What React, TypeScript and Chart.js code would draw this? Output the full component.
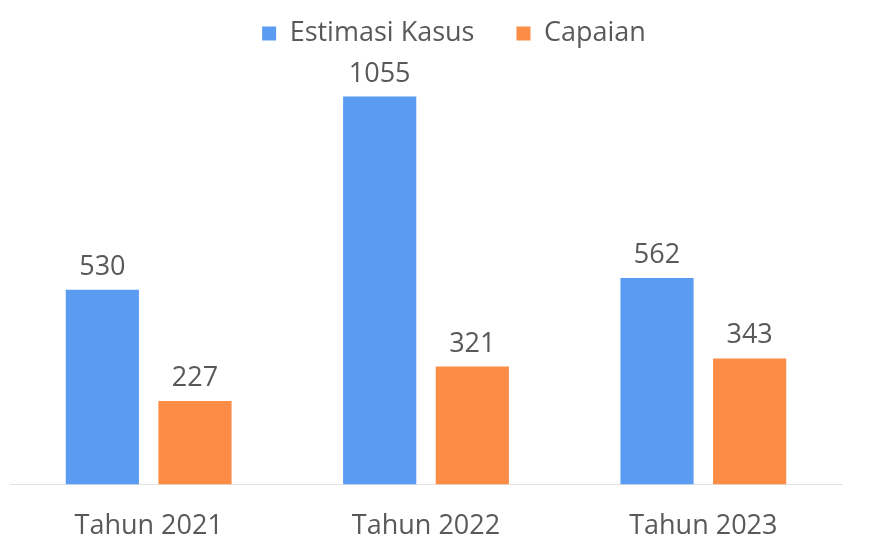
import React, { useEffect, useRef } from "react";
import { Chart, registerables } from "chart.js";

Chart.register(...registerables);

const categories = ["Tahun 2021", "Tahun 2022", "Tahun 2023"];
const estimasiKasus = [530, 1055, 562];
const capaian = [227, 321, 343];
const seriesNames = ["Estimasi Kasus", "Capaian"];

const FONT = "'Open Sans', 'Noto Sans', sans-serif";
const TEXT = "#595959";
const FS = 27;

const valueLabels = {
  id: "valueLabels",
  afterDatasetsDraw(chart: any) {
    const ctx = chart.ctx;
    ctx.save();
    ctx.font = `${FS}px ${FONT}`;
    ctx.fillStyle = TEXT;
    ctx.textAlign = "center";
    ctx.textBaseline = "alphabetic";
    chart.data.datasets.forEach((ds: any, i: number) => {
      const meta = chart.getDatasetMeta(i);
      meta.data.forEach((bar: any, j: number) => {
        ctx.fillText(String(ds.data[j]), bar.x, bar.y - 15);
      });
    });
    ctx.restore();
  },
};

const legendPlace = {
  id: "legendPlace",
  beforeInit(chart: any) {
    const origFit = chart.legend.fit;
    chart.legend.fit = function () {
      origFit.bind(chart.legend)();
      this.height = 70;
    };
  },
  afterLayout(chart: any) {
    const lg = chart.legend;
    lg.top -= 32;
    lg.bottom -= 32;
    lg.left += 28;
    lg.right += 28;
  },
};

export default function App() {
  const ref = useRef<HTMLCanvasElement>(null);
  useEffect(() => {
    document.body.style.margin = "0";
    const chart = new Chart(ref.current!, {
      type: "bar",
      data: {
        labels: categories,
        datasets: [
          {
            label: seriesNames[0],
            data: estimasiKasus,
            backgroundColor: "#5b9cf2",
            barPercentage: 0.79,
            categoryPercentage: 0.668,
          },
          {
            label: seriesNames[1],
            data: capaian,
            backgroundColor: "#fb8d47",
            barPercentage: 0.79,
            categoryPercentage: 0.668,
          },
        ],
      },
      options: {
        animation: false,
        responsive: false,
        layout: { padding: { top: 10, left: 10, right: 30, bottom: -32 } },
        plugins: {
          legend: {
            position: "top",
            labels: {
              font: { family: FONT, size: FS },
              color: TEXT,
              boxWidth: 14,
              boxHeight: 14,
              padding: 42,
            },
          },
          tooltip: { enabled: false },
        },
        scales: {
          x: {
            grid: { display: false, drawTicks: false },
            border: { display: true, color: "#e3e3e3" },
            ticks: {
              font: { family: FONT, size: FS },
              color: TEXT,
              padding: 26,
            },
          },
          y: {
            display: false,
            min: 0,
            max: 1100,
          },
        },
      },
      plugins: [valueLabels, legendPlace],
    });
    return () => chart.destroy();
  }, []);
  return (
    <div style={{ width: 872, height: 537, background: "#fff" }}>
      <canvas ref={ref} width={872} height={537} />
    </div>
  );
}
